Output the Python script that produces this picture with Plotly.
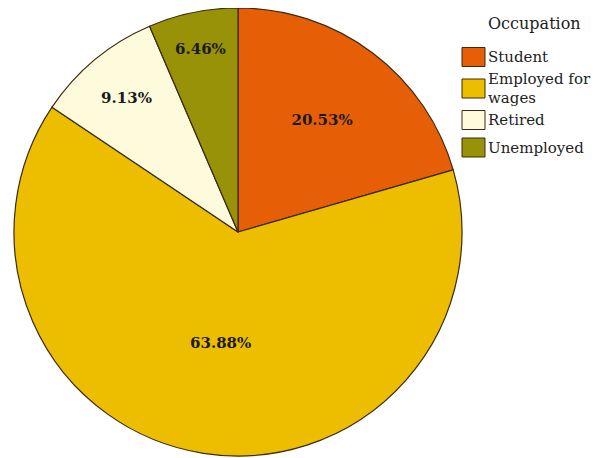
import plotly.graph_objects as go

categories = ["Student", "Employed for<br>wages", "Retired", "Unemployed"]
values = [20.53, 63.88, 9.13, 6.46]
labels_text = ["20.53%", "63.88%", "9.13%", "6.46%"]
colors = ["#E65F07", "#EDBE00", "#FDFBDC", "#979208"]
legend_title = "Occupation"

W, H = 600, 458
OFF = 8  # page body margin offset in the screenshot


def px(xw):
    return (xw - OFF) / W


def py(yw):
    return 1 - (yw - OFF) / H


fig = go.Figure(go.Pie(
    labels=categories,
    values=values,
    text=labels_text,
    texttemplate="<b>%{text}</b>",
    textposition="inside",
    insidetextorientation="horizontal",
    sort=False,
    direction="clockwise",
    rotation=0,
    showlegend=False,
    marker=dict(colors=colors, line=dict(color="#3a2a10", width=1.2)),
    textfont=dict(family="DejaVu Serif", size=15, color="#1a1a1a"),
    domain=dict(x=[px(13), px(463)], y=[py(456), py(8)]),
    hoverinfo="label+percent",
))

# custom legend (swatches + text)
shapes = []
annotations = [dict(
    text=legend_title, x=px(486), y=py(24), xref="paper", yref="paper",
    xanchor="left", yanchor="middle", showarrow=False,
    font=dict(family="DejaVu Serif", size=16, color="#222"),
)]
center = 57.0
line_h = 18.0
for i, (cat, col) in enumerate(zip(categories, colors)):
    lines = cat.split("<br>")
    if i > 0:
        prev_lines = len(categories[i - 1].split("<br>"))
        center += 27.5 + 4 * (prev_lines - 1) + 4 * (len(lines) - 1)
    shapes.append(dict(
        type="rect", xref="paper", yref="paper",
        x0=px(462), x1=px(485), y0=py(center - 9.5), y1=py(center + 9.5),
        fillcolor=col, line=dict(color="#3a2a10", width=1),
    ))
    first = center - line_h * (len(lines) - 1) / 2
    for j, ln in enumerate(lines):
        annotations.append(dict(
            text=ln, x=px(486), y=py(first + j * line_h),
            xref="paper", yref="paper", xanchor="left", yanchor="middle",
            showarrow=False,
            font=dict(family="DejaVu Serif", size=15, color="#222"),
        ))

fig.update_layout(
    width=W, height=H,
    margin=dict(l=0, r=0, t=0, b=0),
    paper_bgcolor="white",
    plot_bgcolor="white",
    font=dict(family="DejaVu Serif", size=14, color="#222"),
    showlegend=False,
    shapes=shapes,
    annotations=annotations,
)

fig.write_html("out.html")
